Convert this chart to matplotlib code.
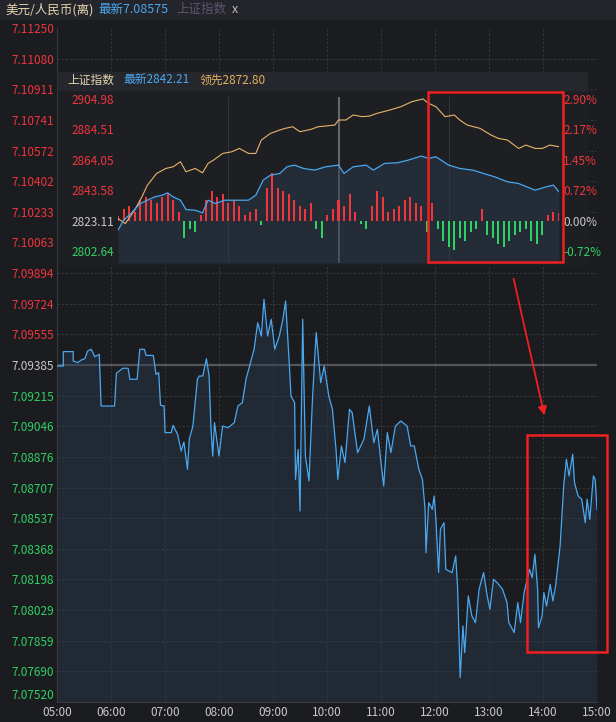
import matplotlib.pyplot as plt
import matplotlib.patches as mpatches
import numpy as np

plt.rcParams['font.family'] = ['Noto Sans CJK SC', 'DejaVu Sans']

# %% Data
# USD/CNH, minutes after 05:00
fx_min = [0, 7, 7, 18, 18, 23, 27, 31, 34, 38, 42, 47, 49, 64, 66, 73, 79, 81, 89, 92, 97, 99, 107, 110, 113,
          115, 119, 120, 127, 129, 134, 138, 141, 145, 147, 151, 156, 158, 162, 166, 169, 171, 173, 175, 180,
          184, 190, 197, 201, 206, 210, 214, 219, 223, 227, 230, 234, 238, 242, 247, 251, 254, 258, 260, 264,
          265, 268, 270, 273, 276, 280, 284, 288, 293, 297, 302, 306, 310, 312, 316, 320, 325, 328, 334, 341,
          347, 352, 356, 360, 363, 367, 371, 376, 382, 389, 393, 397, 402, 406, 409, 410, 413, 417, 419, 421,
          424, 426, 430, 432, 439, 443, 445, 448, 451, 453, 457, 461, 465, 469, 474, 478, 481, 485, 489, 495,
          500, 502, 508, 512, 515, 519, 525, 528, 531, 534, 535, 539, 541, 544, 548, 551, 554, 559, 563, 566,
          569, 573, 575, 579, 583, 587, 589, 592, 596, 598, 600]
fx_val = [7.09379, 7.09379, 7.09459, 7.09459, 7.09407, 7.09398, 7.09413, 7.09420, 7.09462, 7.09472, 7.09431,
          7.09444, 7.09158, 7.09158, 7.09339, 7.09367, 7.09367, 7.09306, 7.09306, 7.09472, 7.09472, 7.09438,
          7.09438, 7.09333, 7.09343, 7.09162, 7.09158, 7.09011, 7.09011, 7.09051, 7.09001, 7.08909, 7.08959,
          7.08808, 7.08974, 7.09047, 7.09306, 7.09324, 7.09324, 7.09420, 7.09324, 7.09047, 7.08881, 7.09066,
          7.08881, 7.09047, 7.09038, 7.09066, 7.09158, 7.09177, 7.09306, 7.09379, 7.09472, 7.09619, 7.09545,
          7.09748, 7.09545, 7.09638, 7.09472, 7.09545, 7.09638, 7.09739, 7.09398, 7.09213, 7.09177, 7.08752,
          7.08918, 7.08577, 7.09638, 7.08881, 7.08743, 7.09213, 7.09564, 7.09287, 7.09379, 7.09213, 7.09140,
          7.08918, 7.08752, 7.08937, 7.08845, 7.09140, 7.09121, 7.08900, 7.08974, 7.09158, 7.08955, 7.09029,
          7.08845, 7.08715, 7.09011, 7.08900, 7.09047, 7.09075, 7.09047, 7.08937, 7.08937, 7.08808, 7.08752,
          7.08586, 7.08346, 7.08623, 7.08586, 7.08660, 7.08531, 7.08236, 7.08476, 7.08512, 7.08254, 7.08236,
          7.08328, 7.08162, 7.07655, 7.07941, 7.07793, 7.08107, 7.07996, 7.07959, 7.08144, 7.08236, 7.08107,
          7.08033, 7.08199, 7.08181, 7.08144, 7.08070, 7.07959, 7.07904, 7.08070, 7.07959, 7.08125, 7.08254,
          7.08208, 7.08337, 7.08144, 7.07931, 7.07996, 7.08125, 7.08051, 7.08171, 7.08079, 7.08162, 7.08383,
          7.08715, 7.08863, 7.08771, 7.08891, 7.08734, 7.08660, 7.08642, 7.08512, 7.08642, 7.08531, 7.08771,
          7.08752, 7.08586]
fx_ticks = [7.11250, 7.11080, 7.10911, 7.10741, 7.10572, 7.10402, 7.10233, 7.10063, 7.09894, 7.09724,
            7.09555, 7.09385, 7.09215, 7.09046, 7.08876, 7.08707, 7.08537, 7.08368, 7.08198, 7.08029,
            7.07859, 7.07690, 7.07520]
fx_prev = 7.09385
hour_labels = ["05:00", "06:00", "07:00", "08:00", "09:00", "10:00", "11:00", "12:00", "13:00", "14:00", "15:00"]

# Shanghai index, trading minutes after 09:30
sh_min = [0, 3, 7, 12, 16, 20, 24, 27, 30, 34, 37, 42, 46, 49, 53, 58, 64, 71, 75, 79, 83, 88, 92, 96, 101,
          107, 113, 120, 123, 128, 135, 139, 145, 152, 158, 165, 169, 173, 180, 186, 193, 199, 205, 212, 218,
          227, 233, 237, 240]
sh_val = [2816.59, 2823.33, 2827.83, 2834.58, 2836.83, 2839.08, 2840.20, 2841.78, 2839.08, 2836.83, 2830.53,
          2830.08, 2828.28, 2836.83, 2834.58, 2836.83, 2836.83, 2836.83, 2840.20, 2850.32, 2853.70, 2854.82,
          2859.32, 2860.45, 2858.20, 2857.07, 2859.32, 2860.45, 2854.82, 2859.32, 2860.45, 2857.07, 2861.57,
          2862.02, 2863.82, 2866.52, 2864.94, 2866.07, 2860.45, 2858.20, 2857.07, 2854.82, 2852.57, 2849.20,
          2848.08, 2843.58, 2845.83, 2846.95, 2842.45]
lead_min = [0, 4, 9, 13, 16, 21, 26, 30, 34, 37, 42, 46, 49, 52, 57, 62, 66, 71, 75, 78, 83, 88, 91, 95, 99,
            105, 109, 113, 118, 120, 124, 128, 133, 137, 141, 148, 154, 160, 166, 169, 173, 178, 183, 186, 190,
            197, 203, 207, 212, 218, 222, 227, 231, 235, 240]
lead_val = [2824.46, 2821.08, 2830.08, 2839.08, 2846.95, 2854.82, 2858.20, 2859.32, 2862.70, 2855.95, 2858.20,
            2855.27, 2861.57, 2863.82, 2868.32, 2869.44, 2871.69, 2868.32, 2868.32, 2877.31, 2881.81, 2884.06,
            2885.19, 2886.31, 2882.94, 2884.51, 2886.31, 2886.76, 2887.44, 2890.81, 2890.81, 2894.18, 2893.06,
            2893.51, 2895.31, 2897.56, 2899.81, 2903.18, 2904.98, 2902.06, 2899.81, 2893.06, 2894.18, 2890.81,
            2887.44, 2885.19, 2880.69, 2878.44, 2877.31, 2871.69, 2873.94, 2871.69, 2871.69, 2873.94, 2872.82]
# red/green bars, every 3 minutes, in index points relative to prev close
bar_val = [3, 8, 10, 6, 14, 16, 14, 12, 16, 18, 14, 6, -12, -6, -8, 4, 14, 20, 16, 18, 12, 14, 10, 4, 6, 8,
           -3, 22, 32, 22, 20, 18, 14, 10, 8, 12, -6, -12, 4, 8, 14, 10, 18, 6, -2, -6, 10, 20, 16, 6, 8, 10,
           14, 16, 12, 10, -8, 12, -6, -14, -18, -20, -12, -14, -8, -6, 8, -10, -12, -16, -18, -14, -10, -8,
           -6, -14, -16, -10, 4, 6, 5]
sh_prev = 2823.11
sh_left = [2904.98, 2884.51, 2864.05, 2843.58, 2823.11, 2802.64]
sh_right = ["2.90%", "2.17%", "1.45%", "0.72%", "0.00%", "-0.72%"]

BG = "#1b1c20"
RED = "#f0353d"
GREEN = "#2fd163"
GRAY = "#c8c8c8"
BLUE = "#4aa8f0"
W, H = 616, 722


def fy(p):
    return 1 - p / H


def fx(p):
    return p / W


fig = plt.figure(figsize=(6.16, 7.22), dpi=100, facecolor=BG)

# header strip
fig.patches.append(mpatches.Rectangle((0, fy(19)), 1, 19 / H, transform=fig.transFigure,
                                      color="#24252a", zorder=0))
fig.text(fx(5), fy(9.5), "美元/人民币(离)", color="#e6d3b0", fontsize=9, va="center")
fig.text(fx(98), fy(9.5), "最新7.08575", color="#4aa8f0", fontsize=9, va="center")
fig.text(fx(176), fy(9.5), "上证指数", color="#5c5470", fontsize=9, va="center")
fig.text(fx(232), fy(9.5), "x", color="#bbbbbb", fontsize=9, va="center")

# %% main chart
ax = fig.add_axes([fx(57), fy(702), fx(597 - 57), (702 - 28) / H])
ax.set_facecolor(BG)
ax.set_xlim(0, 600)
ax.set_ylim(fx_ticks[-1], fx_ticks[0])
ax.plot(fx_min, fx_val, color=BLUE, lw=0.9, zorder=3)
ax.fill_between(fx_min, fx_val, fx_ticks[-1], color="#2a3a4e", alpha=0.45, lw=0, zorder=2)
for t in fx_ticks[1:-1]:
    ax.axhline(t, color="#3a3b41", lw=0.6, ls=(0, (3, 2)), zorder=1)
for h in range(1, 10):
    ax.axvline(h * 60, color="#3a3b41", lw=0.6, ls=(0, (3, 2)), zorder=1)
ax.axhline(fx_prev, color="#55565b", lw=1.6, zorder=1)
ax.set_yticks(fx_ticks)
ax.set_yticklabels([f"{t:.5f}" for t in fx_ticks], fontsize=8.5)
for lab, t in zip(ax.get_yticklabels(), fx_ticks):
    lab.set_color(RED if t > fx_prev + 1e-6 else (GRAY if abs(t - fx_prev) < 1e-6 else GREEN))
ax.get_yticklabels()[-1].set_va("bottom")
ax.set_xticks(range(0, 601, 60))
ax.set_xticklabels(hour_labels, fontsize=8.5, color=GRAY)
ax.tick_params(axis="y", length=0, pad=2)
ax.tick_params(axis="x", length=0, pad=3)
for s in ax.spines.values():
    s.set_visible(False)
ax.spines["left"].set_visible(True)
ax.spines["left"].set_color("#3a3b41")
ax.spines["bottom"].set_visible(True)
ax.spines["bottom"].set_color("#3a3b41")

# %% inset panel
fig.patches.append(mpatches.Rectangle((fx(58), fy(265)), fx(587 - 58), (265 - 72) / H,
                                      transform=fig.transFigure, color="#1e1f23", zorder=5))
fig.patches.append(mpatches.Rectangle((fx(58), fy(90)), fx(587 - 58), 18 / H,
                                      transform=fig.transFigure, color="#26272c", zorder=5))
fig.text(fx(67), fy(80), "上证指数", color="#e6d3b0", fontsize=8.5, va="center", zorder=6)
fig.text(fx(123), fy(80), "最新2842.21", color="#4aa8f0", fontsize=8.5, va="center", zorder=6)
fig.text(fx(200), fy(80), "领先2872.80", color="#e0b060", fontsize=8.5, va="center", zorder=6)

ia = fig.add_axes([fx(118), fy(263), fx(559 - 118), (263 - 97) / H], zorder=6)
ia.set_facecolor("#1e1f23")
ia.set_xlim(0, 240)
ia.set_ylim(2794.56, 2906.3)
for m in (60, 180):
    ia.axvline(m, color="#34353a", lw=0.7, zorder=1)
ia.axvline(120, color="#6a6b70", lw=1.4, zorder=1)
ia.fill_between(sh_min, sh_val, 2794.56, color="#2a3a4e", alpha=0.5, lw=0, zorder=2)
bar_x = np.arange(len(bar_val)) * 3
bar_h = np.array(bar_val, dtype=float)
ia.bar(bar_x, bar_h, bottom=sh_prev, width=1.1,
       color=[RED if v > 0 else GREEN for v in bar_val], lw=0, zorder=3)
ia.plot(lead_min, lead_val, color="#e8b46a", lw=0.8, zorder=4)
ia.plot(sh_min, sh_val, color=BLUE, lw=0.9, zorder=4)
ia.set_xticks([])
ia.set_yticks(sh_left)
ia.set_yticklabels([f"{v:.2f}" for v in sh_left], fontsize=8.5)
cols = [RED, RED, RED, RED, GRAY, GREEN]
for lab, c in zip(ia.get_yticklabels(), cols):
    lab.set_color(c)
ib = ia.twinx()
ib.set_ylim(ia.get_ylim())
ib.set_yticks(sh_left)
ib.set_yticklabels(sh_right, fontsize=8.5)
for lab, c in zip(ib.get_yticklabels(), cols):
    lab.set_color(c)
for a in (ia, ib):
    a.tick_params(length=0, pad=3)
    for s in a.spines.values():
        s.set_visible(False)

# %% red annotations
for (x0, y0, x1, y1) in [(428, 92, 563, 262), (527, 435, 607, 652)]:
    fig.patches.append(mpatches.Rectangle((fx(x0), fy(y1)), fx(x1 - x0), (y1 - y0) / H,
                                          transform=fig.transFigure, fill=False,
                                          ec="#f02020", lw=1.8, zorder=10))
fig.patches.append(mpatches.FancyArrowPatch((fx(513), fy(276)), (fx(545), fy(418)),
                                            transform=fig.transFigure, arrowstyle="-|>,head_length=5,head_width=2.5",
                                            color="#f02020", lw=1.3, zorder=10))

fig.savefig("out.png", dpi=100, facecolor=BG)
